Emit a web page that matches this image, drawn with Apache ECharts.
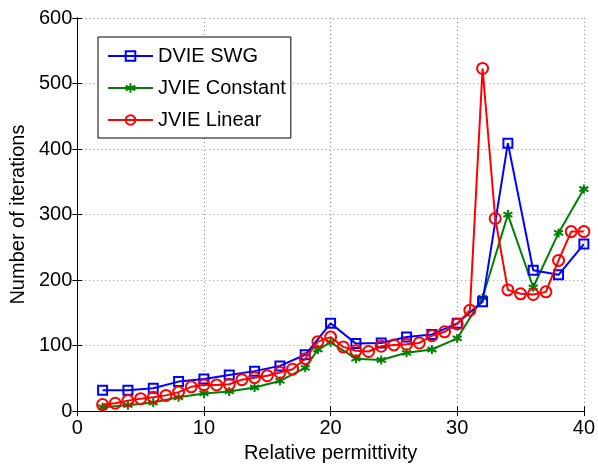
<!DOCTYPE html>
<html>
<head>
<meta charset="utf-8">
<script src="https://cdn.jsdelivr.net/npm/echarts@6/dist/echarts.min.js"></script>
<style>
  html, body { margin: 0; padding: 0; background: #fff; }
  #chart { width: 598px; height: 468px; }
</style>
</head>
<body>
<div id="chart"></div>
<script>
// relative permittivity samples
var swgX = [2, 4, 6, 8, 10, 12, 14, 16, 18, 20, 22, 24, 26, 28, 30, 32, 34, 36, 38, 40];
var swgY = [32, 32, 35, 45, 49, 55, 61, 69, 86, 134, 103, 104, 113, 117, 134, 167, 409, 215, 208, 255];

var constX = [2, 4, 6, 8, 10, 12, 14, 16, 18, 19, 20, 22, 24, 26, 28, 30, 32, 34, 36, 38, 40];
var constY = [6, 9, 13, 21, 27, 30, 36, 46, 66, 94, 105, 80, 78, 89, 94, 111, 173, 300, 189, 272, 339];

var linX = [2, 3, 4, 5, 6, 7, 8, 9, 10, 11, 12, 13, 14, 15, 16, 17, 18, 19, 20, 21,
            22, 23, 24, 25, 26, 27, 28, 29, 30, 31, 32, 33, 34, 35, 36, 37, 38, 39, 40];
var linY = [10, 12, 16, 19, 21, 24, 29, 37, 40, 40, 41, 48, 51, 54, 59, 64, 80, 106, 113, 98,
            92, 91, 99, 101, 102, 104, 115, 121, 133, 154, 523, 294, 185, 179, 178, 182, 230, 274, 274];

var seriesNames = ['DVIE SWG', 'JVIE Constant', 'JVIE Linear'];

function pairs(xs, ys) {
    return xs.map(function (x, i) { return [x, ys[i]]; });
}

var font = 'Liberation Sans, Arial, Helvetica, sans-serif';
var gridLine = { show: true, lineStyle: { color: '#9a9a9a', type: [1, 3], width: 1 } };
var blackLine = { show: true, lineStyle: { color: '#000', width: 1 } };
var inTick = { show: true, inside: true, length: 5, lineStyle: { color: '#000' } };

var chart = echarts.init(document.getElementById('chart'));
chart.setOption({
    animation: false,
    backgroundColor: '#fff',
    textStyle: { fontFamily: font },
    grid: { left: 76, right: 12, top: 18, bottom: 48 },
    legend: {
        orient: 'vertical',
        left: 98,
        top: 37,
        padding: [9, 5, 8, 9],
        itemGap: 12,
        itemWidth: 45,
        itemHeight: 12,
        backgroundColor: '#fff',
        borderColor: '#000',
        borderWidth: 1,
        borderRadius: 0,
        textStyle: { fontSize: 20, color: '#000', fontFamily: font },
        data: seriesNames
    },
    xAxis: [{
        type: 'value',
        min: 0, max: 40, interval: 10,
        name: 'Relative permittivity',
        nameLocation: 'middle',
        nameGap: 28,
        nameTextStyle: { fontSize: 20, color: '#000', fontFamily: font },
        axisLine: blackLine,
        axisTick: inTick,
        axisLabel: { fontSize: 20, color: '#000', margin: 7, fontFamily: font },
        splitLine: gridLine
    }, {
        type: 'value',
        position: 'top',
        min: 0, max: 40, interval: 10,
        axisLine: blackLine,
        axisTick: inTick,
        axisLabel: { show: false },
        splitLine: { show: false }
    }],
    yAxis: [{
        type: 'value',
        min: 0, max: 600, interval: 100,
        name: 'Number of iterations',
        nameLocation: 'middle',
        nameGap: 47,
        nameTextStyle: { fontSize: 20, color: '#000', fontFamily: font },
        axisLine: blackLine,
        axisTick: inTick,
        axisLabel: { fontSize: 20, color: '#000', margin: 5, fontFamily: font },
        splitLine: gridLine
    }, {
        type: 'value',
        position: 'right',
        min: 0, max: 600, interval: 100,
        axisLine: blackLine,
        axisTick: inTick,
        axisLabel: { show: false },
        splitLine: { show: false }
    }],
    series: [{
        name: seriesNames[0],
        type: 'line',
        data: pairs(swgX, swgY),
        symbol: 'rect',
        symbolSize: 9,
        lineStyle: { color: '#0000ff', width: 2 },
        itemStyle: { color: 'rgba(0,0,0,0)', borderColor: '#0000ff', borderWidth: 2 },
        z: 3
    }, {
        name: seriesNames[1],
        type: 'line',
        data: pairs(constX, constY),
        symbol: 'path://M0,-5L0,5M-4.33,-2.5L4.33,2.5M-4.33,2.5L4.33,-2.5',
        symbolSize: 9,
        lineStyle: { color: '#008000', width: 2 },
        itemStyle: { color: '#008000', borderColor: '#008000', borderWidth: 2 },
        z: 2
    }, {
        name: seriesNames[2],
        type: 'line',
        data: pairs(linX, linY),
        symbol: 'circle',
        symbolSize: 11,
        lineStyle: { color: '#ff0000', width: 2 },
        itemStyle: { color: 'rgba(0,0,0,0)', borderColor: '#ff0000', borderWidth: 2 },
        z: 4
    }]
});
</script>
</body>
</html>
